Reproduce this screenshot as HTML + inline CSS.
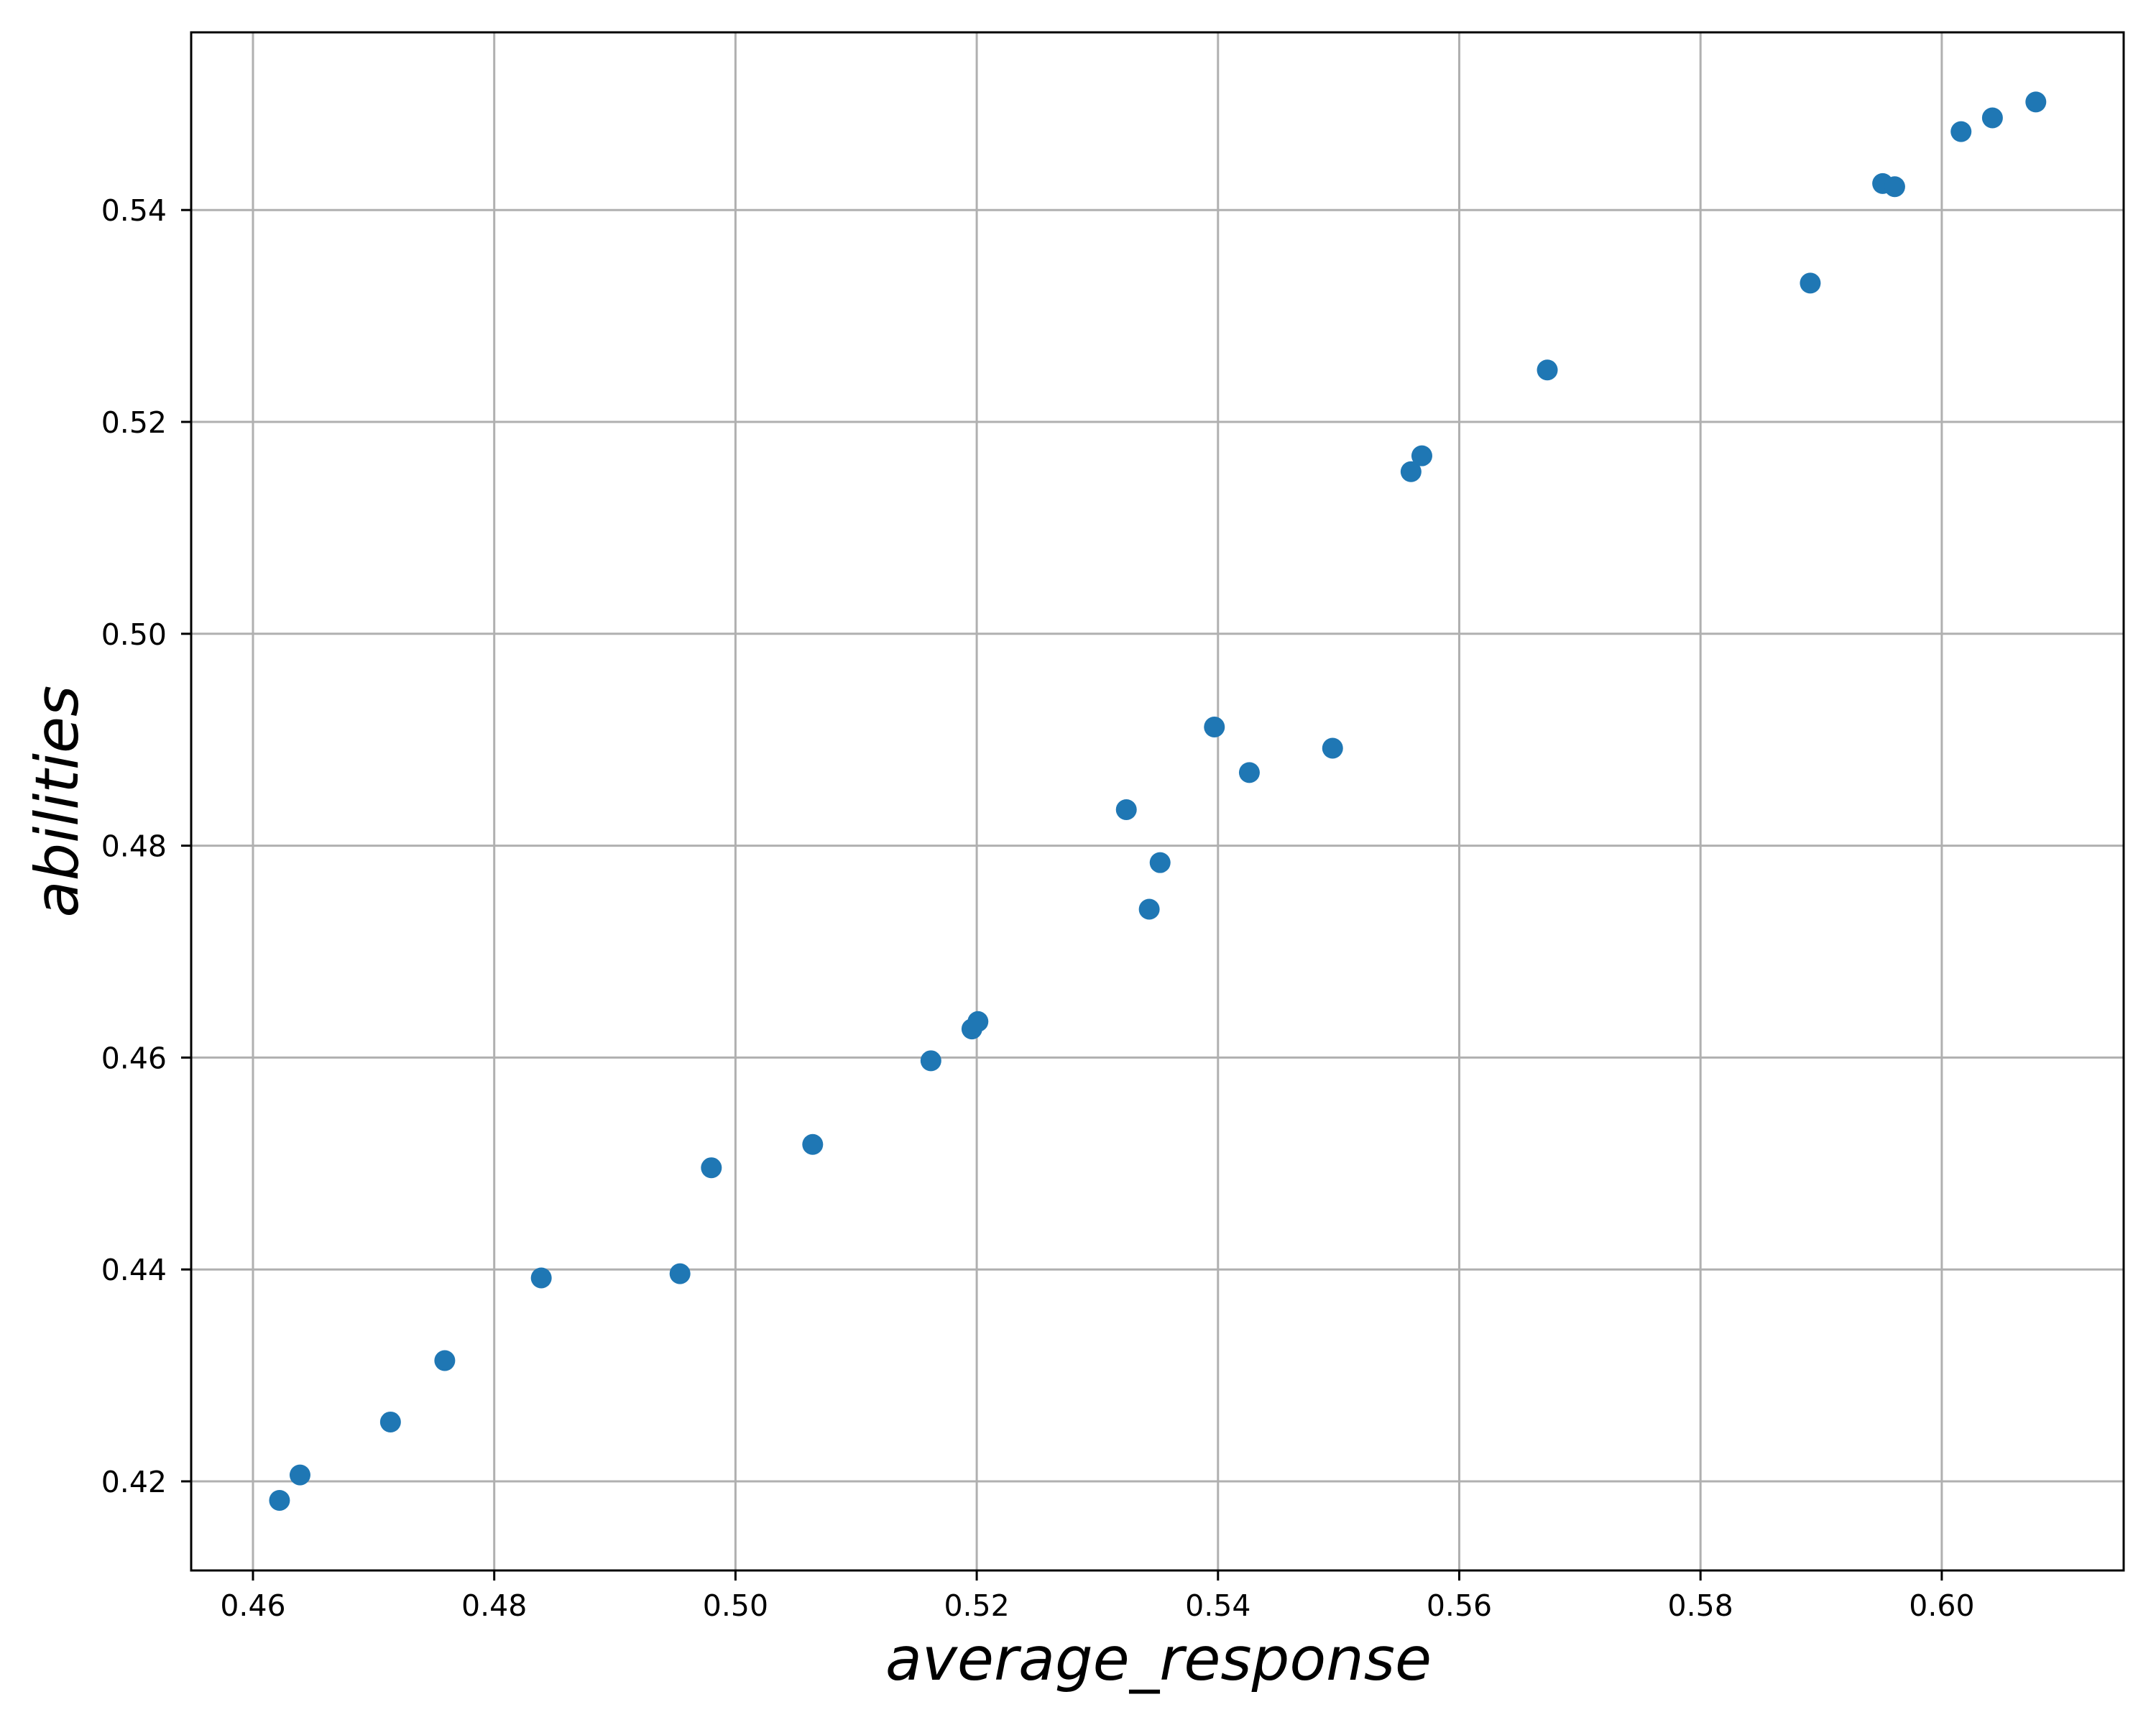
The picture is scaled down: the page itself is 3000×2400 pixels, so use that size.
<!DOCTYPE html>
<html><head><meta charset="utf-8"><style>html,body{margin:0;padding:0;background:#fff}svg{display:block}</style></head>
<body>
<svg id="chart" width="3000" height="2400" viewBox="0 0 3000 2400" xmlns="http://www.w3.org/2000/svg" font-family="'DejaVu Sans','Liberation Sans',sans-serif">
<rect width="3000" height="2400" fill="#fff"/>
<g id="grid"></g>
<g id="points"></g>
<rect x="266" y="45" width="2689" height="2140" fill="none" stroke="#000" stroke-width="3"/>
<g id="ticks"></g>
<text x="1612" y="2337" font-size="83" font-style="italic" text-anchor="middle">average_response</text>
<text x="0" y="0" font-size="83" font-style="italic" text-anchor="middle" transform="translate(108,1115) rotate(-90)">abilities</text>
</svg>
<script>
const xValues = [0.4622,0.4639,0.4714,0.4759,0.4839,0.4954,0.4980,0.5064,0.5162,0.5196,0.5201,0.5324,0.5343,0.5352,0.5397,0.5426,0.5495,0.5560,0.5569,0.5673,0.5891,0.5951,0.5961,0.6016,0.6042,0.6078];
const yValues = [0.4182,0.4206,0.4256,0.4314,0.4392,0.4396,0.4496,0.4518,0.4597,0.4627,0.4634,0.4834,0.4740,0.4784,0.4912,0.4869,0.4892,0.5153,0.5168,0.5249,0.5331,0.5425,0.5422,0.5474,0.5487,0.5502];
const xTicks = [0.46,0.48,0.50,0.52,0.54,0.56,0.58,0.60];
const yTicks = [0.42,0.44,0.46,0.48,0.50,0.52,0.54];
const NS='http://www.w3.org/2000/svg';
const X0=266,X1=2955,Y0=45,Y1=2185;
function sx(v){return 352+(v-0.46)/0.02*335.7;}
function sy(v){return 2061-(v-0.42)/0.02*294.8;}
function mk(tag,attrs){const e=document.createElementNS(NS,tag);for(const k in attrs)e.setAttribute(k,attrs[k]);return e;}
const grid=document.getElementById('grid'),ticks=document.getElementById('ticks'),pts=document.getElementById('points');
xTicks.forEach(t=>{
  const x=sx(t);
  const g=mk('line',{x1:x,x2:x,y1:Y0,y2:Y1,stroke:'#b0b0b0','stroke-width':3});
  
  
  grid.appendChild(g);
  const tk=mk('line',{x1:x,x2:x,y1:Y1,y2:Y1+14,stroke:'#000','stroke-width':3});
  
  
  ticks.appendChild(tk);
  const tx=mk('text',{x:x,y:2248,'font-size':41,'text-anchor':'middle'});
  tx.textContent=t.toFixed(2);
  
  
  ticks.appendChild(tx);
});
yTicks.forEach(t=>{
  const y=sy(t);
  const g=mk('line',{x1:X0,x2:X1,y1:y,y2:y,stroke:'#b0b0b0','stroke-width':3});
  
  
  grid.appendChild(g);
  const tk=mk('line',{x1:X0-14,x2:X0,y1:y,y2:y,stroke:'#000','stroke-width':3});
  
  
  ticks.appendChild(tk);
  const tx=mk('text',{x:232,y:y+15,'font-size':41,'text-anchor':'end'});
  tx.textContent=t.toFixed(2);
  
  
  ticks.appendChild(tx);
});
xValues.forEach((v,i)=>{
  const c=mk('circle',{cx:sx(v),cy:sy(yValues[i]),r:14.5,fill:'#1f77b4'});
  
  
  pts.appendChild(c);
});
</script>
</body></html>
